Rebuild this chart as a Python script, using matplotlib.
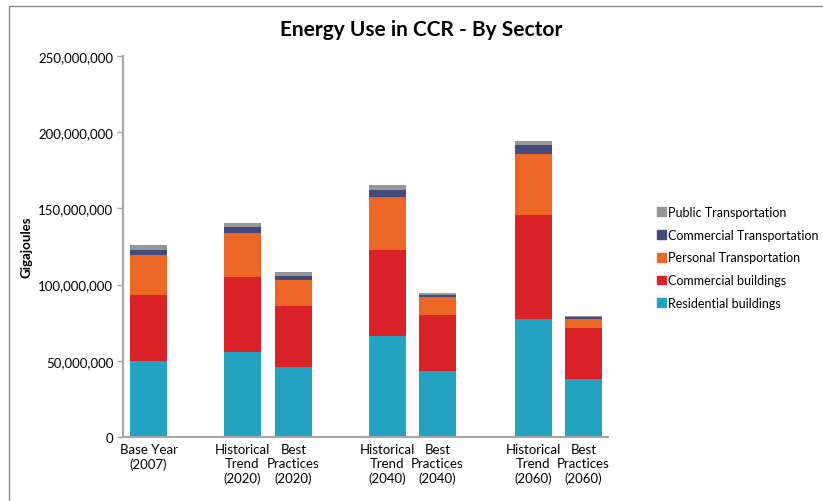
import matplotlib
matplotlib.use("Agg")
import matplotlib.pyplot as plt
from matplotlib.patches import Rectangle, Patch
from matplotlib.ticker import FuncFormatter
import numpy as np

plt.rcParams['font.family'] = ['Lato', 'DejaVu Sans']

categories = ["Base Year\n(2007)", "Historical\nTrend\n(2020)", "Best\nPractices\n(2020)",
              "Historical\nTrend\n(2040)", "Best\nPractices\n(2040)",
              "Historical\nTrend\n(2060)", "Best\nPractices\n(2060)"]
series_names = ["Residential buildings", "Commercial buildings", "Personal Transportation",
                "Commercial Transportation", "Public Transportation"]
# values in gigajoules
residential = [50.0e6, 56.0e6, 46.0e6, 66.0e6, 43.0e6, 77.6e6, 38.0e6]
commercial_bld = [43.4e6, 49.0e6, 40.2e6, 56.6e6, 37.0e6, 68.0e6, 33.5e6]
personal_tr = [26.3e6, 29.0e6, 17.1e6, 34.6e6, 11.6e6, 40.4e6, 5.7e6]
commercial_tr = [3.3e6, 4.0e6, 2.2e6, 4.8e6, 1.8e6, 5.6e6, 1.5e6]
public_tr = [2.7e6, 2.5e6, 2.5e6, 3.3e6, 1.3e6, 2.7e6, 0.9e6]
colors = ["#22A3C1", "#DA2128", "#EC6625", "#434B7D", "#969696"]

positions = np.array([0, 1.88, 2.9, 4.78, 5.78, 7.7, 8.7])

fig = plt.figure(figsize=(8.23, 5.02), dpi=100)
ax = fig.add_axes([123/823, 1-438/502, (608-123)/823, (438-57)/502])

data = [residential, commercial_bld, personal_tr, commercial_tr, public_tr]
bottom = np.zeros(len(categories))
handles = []
for name, vals, c in zip(series_names, data, colors):
    ax.bar(positions, vals, width=0.75, bottom=bottom, color=c, edgecolor='none', label=name)
    bottom += np.array(vals)
    handles.append(Patch(color=c, label=name))

ax.set_xlim(-0.51, 9.19)
ax.set_ylim(0, 250e6)
ax.set_yticks(np.arange(0, 250e6 + 1, 50e6))
ax.yaxis.set_major_formatter(FuncFormatter(lambda v, p: f"{int(v):,}"))
ax.set_xticks(positions)
ax.set_xticklabels(categories, fontsize=9.5, linespacing=1.25)
ax.tick_params(axis='x', length=0, pad=4)
ax.tick_params(axis='y', length=4, width=1, color='#A6A6A6', labelsize=9.5, pad=3)
for s in ['top', 'right']:
    ax.spines[s].set_visible(False)
for s in ['left', 'bottom']:
    ax.spines[s].set_color('#A6A6A6')
    ax.spines[s].set_linewidth(1.5)

ax.set_ylabel("Gigajoules", fontsize=9.5, fontweight='bold', labelpad=6)
ax.yaxis.set_label_coords(-0.187, 0.5)

fig.text(421/823, 1-30/502, "Energy Use in CCR - By Sector", ha='center', va='center',
         fontsize=15, fontweight='bold')

leg = fig.legend(handles=handles[::-1], loc='upper left', bbox_to_anchor=(652/823, 1-202/502),
                 frameon=False, fontsize=9, handlelength=0.7, handleheight=0.7,
                 handletextpad=0.15, labelspacing=0.86, borderaxespad=0)

fig.patches.append(Rectangle((9/823, -0.1), 1.2, 1-7/502+0.1, transform=fig.transFigure,
                             fill=False, edgecolor='#8C8C8C', linewidth=1))

fig.savefig("out.png", dpi=100)
